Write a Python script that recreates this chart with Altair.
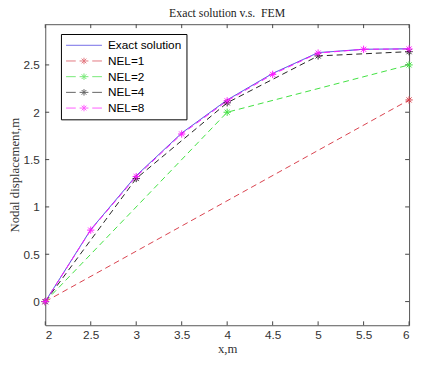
import altair as alt
import pandas as pd

series = ["Exact solution", "NEL=1", "NEL=2", "NEL=4", "NEL=8"]
colors = ["#3b30dd", "#d8404c", "#3fe03f", "#222222", "#ff1aff"]

x_exact = [2, 2.5, 3, 3.5, 4, 4.5, 5, 5.5, 6]
u_exact = [0, 0.76, 1.33, 1.78, 2.13, 2.41, 2.63, 2.665, 2.67]
x_nel1 = [2, 6]
u_nel1 = [0, 2.13]
x_nel2 = [2, 4, 6]
u_nel2 = [0, 2.0, 2.5]
x_nel4 = [2, 3, 4, 5, 6]
u_nel4 = [0, 1.30, 2.10, 2.595, 2.64]
x_nel8 = [2, 2.5, 3, 3.5, 4, 4.5, 5, 5.5, 6]
u_nel8 = [0, 0.755, 1.32, 1.77, 2.12, 2.40, 2.625, 2.665, 2.668]

x_ticks = [2, 2.5, 3, 3.5, 4, 4.5, 5, 5.5, 6]
y_ticks = [0, 0.5, 1, 1.5, 2, 2.5]

rows = []
for name, xs, us in zip(series,
                        [x_exact, x_nel1, x_nel2, x_nel4, x_nel8],
                        [u_exact, u_nel1, u_nel2, u_nel4, u_nel8]):
    for k, (a, b) in enumerate(zip(xs, us)):
        rows.append({"series": name, "x": a, "u": b, "k": k})
df = pd.DataFrame(rows)

W, H = 371, 307
ASTER = "M-1,0L1,0M0,-1L0,1M-0.7,-0.7L0.7,0.7M-0.7,0.7L0.7,-0.7"
LEG_SOLID = "M-1.05,0L5.05,0"
LEG_DASH = ("M-1.05,0L0.6,0M1.25,0L2.75,0M3.4,0L5.05,0"
            "M2,-0.55L2,0.55M1.6,-0.4L2.4,0.4M1.6,0.4L2.4,-0.4")

xscale = alt.Scale(domain=[2, 6], nice=False, zero=False)
yscale = alt.Scale(domain=[-0.25, 2.93], nice=False, zero=False)
cscale = alt.Scale(domain=series, range=colors)

xaxis = alt.Axis(values=x_ticks, format="~g", ticks=False, domain=False, grid=False,
                 labelFont="Liberation Sans", labelFontSize=12, labelColor="#333333",
                 labelPadding=5, title="x,m", titleFont="Liberation Serif",
                 titleFontSize=13, titleFontWeight="normal", titleColor="#333333",
                 titlePadding=2)
yaxis = alt.Axis(values=y_ticks, format="~g", ticks=False, domain=False, grid=False,
                 labelFont="Liberation Sans", labelFontSize=12, labelColor="#333333",
                 labelPadding=6, title="Nodal displacement,m", titleFont="Liberation Serif",
                 titleFontSize=13, titleFontWeight="normal", titleColor="#333333",
                 titlePadding=2)

base = alt.Chart(df)

lines = base.mark_line(strokeWidth=1, clip=True).encode(
    x=alt.X("x:Q", scale=xscale, axis=xaxis),
    y=alt.Y("u:Q", scale=yscale, axis=yaxis),
    color=alt.Color("series:N", scale=cscale, legend=None),
    strokeDash=alt.StrokeDash("series:N",
                              scale=alt.Scale(domain=series,
                                              range=[[1, 0], [6, 4], [6, 4], [6, 4], [6, 4]]),
                              legend=None),
    order="k:Q",
)

points = base.transform_filter("datum.series != 'Exact solution'").mark_point(
    shape=ASTER, size=55, filled=False, strokeWidth=1, opacity=1).encode(
    x="x:Q", y="u:Q",
    color=alt.Color("series:N", scale=cscale, legend=None),
)

leg = alt.Legend(title=None, orient="none", legendX=16, legendY=10,
                 symbolSize=144, symbolStrokeWidth=1,
                 labelFont="Liberation Sans", labelFontSize=12,
                 labelColor="#000000", strokeColor="#000000",
                 fillColor="#ffffff", padding=5, rowPadding=3, labelOffset=30)

legend_layer = base.transform_filter("false").mark_point(filled=False, strokeWidth=1).encode(
    x="x:Q", y="u:Q",
    color=alt.Color("series:N", scale=cscale, legend=leg),
    shape=alt.Shape("series:N",
                    scale=alt.Scale(domain=series,
                                    range=[LEG_SOLID, LEG_DASH, LEG_DASH, LEG_DASH, LEG_DASH]),
                    legend=leg),
)

tickdf_x = pd.DataFrame({"t": x_ticks})
tickdf_y = pd.DataFrame({"t": y_ticks})
tcol = "#444444"
bt = alt.Chart(tickdf_x).mark_rule(color=tcol, strokeWidth=1).encode(
    x="t:Q", y=alt.value(H), y2=alt.value(H - 4))
tt = alt.Chart(tickdf_x).mark_rule(color=tcol, strokeWidth=1).encode(
    x="t:Q", y=alt.value(0), y2=alt.value(4))
lt = alt.Chart(tickdf_y).mark_rule(color=tcol, strokeWidth=1).encode(
    y="t:Q", x=alt.value(0), x2=alt.value(4))
rt = alt.Chart(tickdf_y).mark_rule(color=tcol, strokeWidth=1).encode(
    y="t:Q", x=alt.value(W), x2=alt.value(W - 4))

chart = alt.layer(bt, tt, lt, rt, lines, points, legend_layer).resolve_legend(
    color="independent", shape="independent", strokeDash="independent"
).properties(
    width=W, height=H,
    title=alt.TitleParams("Exact solution v.s.\u00a0 FEM", font="Liberation Serif",
                          fontSize=12, fontWeight="normal", color="#222222",
                          anchor="middle", offset=4),
    autosize=alt.AutoSizeParams(type="none"),
    padding={"left": 38, "top": 13, "right": 4, "bottom": 37},
).configure_view(stroke="#555555", strokeWidth=1)

chart.save("out.html", embed_options={"renderer": "svg", "actions": False})
